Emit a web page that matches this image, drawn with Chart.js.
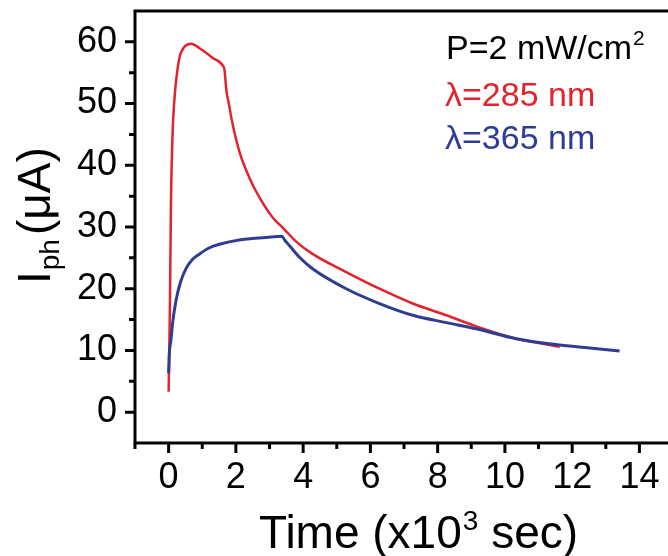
<!DOCTYPE html>
<html>
<head>
<meta charset="utf-8">
<script src="https://cdn.jsdelivr.net/npm/chart.js@4"></script>
<style>
  html, body { margin: 0; padding: 0; background: #ffffff; overflow: hidden; }
  #wrap { width: 668px; height: 556px; }
</style>
</head>
<body>
<div id="wrap"><canvas id="c" width="668" height="556"></canvas></div>
<script>
// ---- data ----
const redTime = [0, 0.02, 0.04, 0.07, 0.12, 0.17, 0.22, 0.32, 0.47, 0.67, 0.91, 1.31, 1.63, 1.66, 1.72, 1.78, 1.89, 2.1, 2.4, 2.7, 3.1, 3.39, 3.8, 4.29, 5.28, 6.27, 7.26, 8.26, 9.15, 10.34, 11.0, 11.63];
const redCurrent = [3.3, 10, 18, 34, 45.5, 50.5, 53.6, 57.4, 59.2, 59.7, 59.0, 57.4, 56.0, 55.5, 52, 50.3, 47, 42.3, 38, 34.8, 31.5, 29.9, 27.6, 25.6, 22.7, 20.0, 17.6, 15.7, 13.9, 11.9, 11.2, 10.6];
const blueTime = [0, 0.02, 0.07, 0.12, 0.22, 0.35, 0.52, 0.7, 0.91, 1.2, 1.51, 2.1, 2.9, 3.37, 3.45, 3.59, 3.89, 4.29, 5.28, 6.27, 7.26, 8.26, 9.15, 10.34, 11.3, 12.3, 13.41];
const blueCurrent = [6.3, 9.5, 11.7, 14.5, 18.1, 21, 23.3, 24.7, 25.6, 26.6, 27.2, 27.9, 28.3, 28.5, 27.9, 27.0, 25.1, 23.2, 20.0, 17.6, 15.7, 14.5, 13.5, 11.9, 11.1, 10.5, 9.9];
const xTickValues = [0, 2, 4, 6, 8, 10, 12, 14];
const xMinorTickValues = [-1, 1, 3, 5, 7, 9, 11, 13];
const yTickValues = [0, 10, 20, 30, 40, 50, 60];
const yMinorTickValues = [5, 15, 25, 35, 45, 55];
const legendTexts = ['P=2 mW/cm', 'λ=285 nm', 'λ=365 nm'];
const xTitleParts = ['Time (x10', '3', ' sec)'];
const yTitleParts = ['I', 'ph', '(μA)'];

const RED = '#e3232b';
const BLUE = '#2e3d91';
const FONT = '"Liberation Sans", Arial, Helvetica, sans-serif';

function toPoints(xs, ys) { return xs.map((x, i) => ({ x: x, y: ys[i] })); }

const decorPlugin = {
  id: 'decor',
  afterDraw(chart) {
    const ctx = chart.ctx;
    const a = chart.chartArea;
    const xs = chart.scales.x, ys = chart.scales.y;
    ctx.save();
    ctx.strokeStyle = '#000';
    ctx.lineCap = 'butt';
    // frame: left, bottom, top
    ctx.lineWidth = 3;
    ctx.beginPath();
    ctx.moveTo(a.left, a.top - 1.5); ctx.lineTo(a.left, a.bottom + 1.5);
    ctx.moveTo(a.left - 1.5, a.bottom); ctx.lineTo(a.right, a.bottom);
    ctx.moveTo(a.left - 1.5, a.top); ctx.lineTo(a.right, a.top);
    ctx.stroke();
    // ticks
    ctx.lineWidth = 3;
    ctx.beginPath();
    xTickValues.forEach(v => { const p = xs.getPixelForValue(v); ctx.moveTo(p, a.bottom); ctx.lineTo(p, a.bottom + 10); });
    xMinorTickValues.forEach(v => { const p = xs.getPixelForValue(v); ctx.moveTo(p, a.bottom); ctx.lineTo(p, a.bottom + 6); });
    yTickValues.forEach(v => { const p = ys.getPixelForValue(v); ctx.moveTo(a.left, p); ctx.lineTo(a.left - 10, p); });
    yMinorTickValues.forEach(v => { const p = ys.getPixelForValue(v); ctx.moveTo(a.left, p); ctx.lineTo(a.left - 6, p); });
    ctx.stroke();

    // legend-like annotation
    ctx.textBaseline = 'alphabetic';
    ctx.textAlign = 'left';
    ctx.fillStyle = '#000';
    ctx.font = '34px ' + FONT;
    ctx.fillText(legendTexts[0], 446, 59);
    const w0 = ctx.measureText(legendTexts[0]).width;
    ctx.font = '21px ' + FONT;
    ctx.fillText('2', 446 + w0 + 1, 45);
    ctx.font = '34px ' + FONT;
    ctx.fillStyle = RED;
    ctx.fillText(legendTexts[1], 445, 106);
    ctx.fillStyle = BLUE;
    ctx.fillText(legendTexts[2], 445, 149);

    // x title
    ctx.fillStyle = '#000';
    let x = 259, base = 548;
    ctx.font = '46px ' + FONT;
    ctx.fillText(xTitleParts[0], x, base);
    x += ctx.measureText(xTitleParts[0]).width + 1;
    ctx.font = '28px ' + FONT;
    ctx.fillText(xTitleParts[1], x, base - 18);
    x += ctx.measureText(xTitleParts[1]).width;
    ctx.font = '46px ' + FONT;
    ctx.fillText(xTitleParts[2], x, base);

    // y title (rotated)
    ctx.translate(50, 284);
    ctx.rotate(-Math.PI / 2);
    let t = 0;
    ctx.font = '46px ' + FONT;
    ctx.fillText(yTitleParts[0], t, 0);
    t += ctx.measureText(yTitleParts[0]).width + 1;
    ctx.font = '28px ' + FONT;
    ctx.fillText(yTitleParts[1], t, 9);
    t += ctx.measureText(yTitleParts[1]).width + 4;
    ctx.font = '46px ' + FONT;
    ctx.fillText(yTitleParts[2], t, 0);
    ctx.restore();
  }
};

new Chart(document.getElementById('c'), {
  type: 'line',
  data: {
    datasets: [
      {
        label: 'λ=365 nm',
        data: toPoints(blueTime, blueCurrent),
        borderColor: BLUE,
        borderWidth: 3,
        pointRadius: 0,
        fill: false,
        cubicInterpolationMode: 'monotone'
      },
      {
        label: 'λ=285 nm',
        data: toPoints(redTime, redCurrent),
        borderColor: RED,
        borderWidth: 2.5,
        pointRadius: 0,
        fill: false,
        cubicInterpolationMode: 'monotone'
      }
    ]
  },
  options: {
    responsive: false,
    animation: false,
    events: [],
    layout: { padding: { top: 11, right: 0, bottom: 0, left: 0 } },
    plugins: { legend: { display: false }, tooltip: { enabled: false } },
    scales: {
      x: {
        type: 'linear',
        min: -1,
        max: 14.85,
        grid: { display: false, drawTicks: false },
        border: { display: false },
        afterBuildTicks(s) { s.ticks = xTickValues.map(v => ({ value: v })); },
        afterFit(s) { s.height = 113; s.paddingLeft = 0; s.paddingRight = 0; },
        ticks: {
          color: '#000',
          font: { family: FONT, size: 36 },
          padding: 13,
          maxRotation: 0,
          autoSkip: false,
          callback: v => String(v)
        }
      },
      y: {
        type: 'linear',
        min: -5,
        max: 65,
        grid: { display: false, drawTicks: false },
        border: { display: false },
        afterBuildTicks(s) { s.ticks = yTickValues.map(v => ({ value: v })); },
        afterFit(s) { s.width = 135; s.paddingTop = 0; s.paddingBottom = 0; },
        ticks: {
          color: '#000',
          font: { family: FONT, size: 36 },
          padding: 18,
          autoSkip: false,
          callback: v => String(v)
        }
      }
    }
  },
  plugins: [decorPlugin]
});
</script>
</body>
</html>
